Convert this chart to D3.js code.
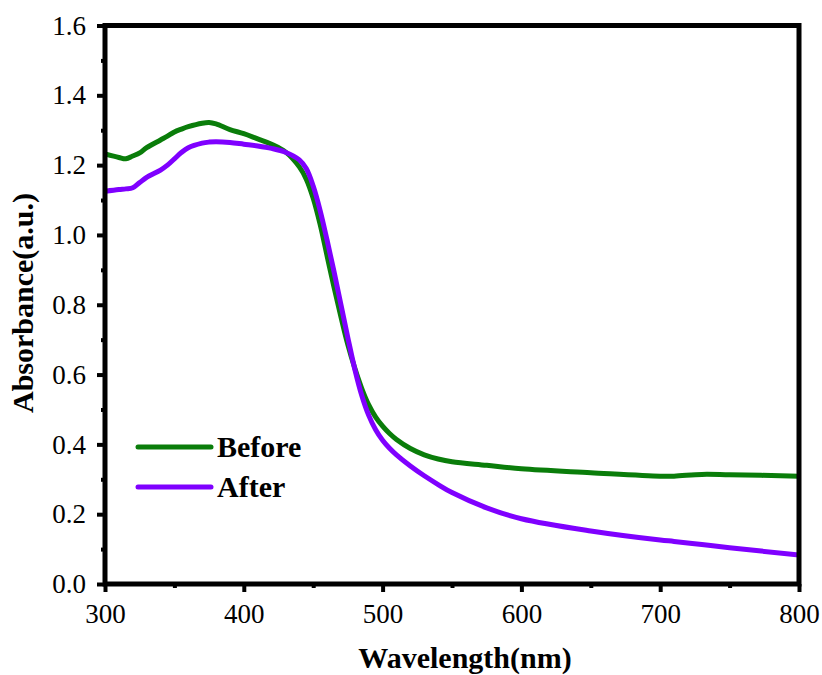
<!DOCTYPE html>
<html>
<head>
<meta charset="utf-8">
<script src="https://cdn.jsdelivr.net/npm/d3@7"></script>
<style>
  body { margin: 0; background: #fff; }
  svg { display: block; }
  text { font-family: "Liberation Serif", "Times New Roman", serif; fill: #000; }
</style>
</head>
<body>
<svg id="chart" width="822" height="675"></svg>
<script>
const wavelength = [300,310,315,320,325,330,340,345,350,355,360,370,375,380,390,400,410,420,430,440,445,450,455,460,465,470,475,480,485,490,495,500,505,510,520,530,540,550,575,600,650,700,710,730,750,800];
const before = [1.232,1.222,1.218,1.226,1.235,1.25,1.272,1.283,1.295,1.303,1.31,1.32,1.322,1.318,1.302,1.29,1.275,1.26,1.238,1.195,1.16,1.105,1.03,0.94,0.85,0.765,0.685,0.618,0.56,0.513,0.478,0.452,0.431,0.414,0.388,0.37,0.358,0.35,0.34,0.33,0.319,0.309,0.309,0.314,0.313,0.309];
const after = [1.125,1.13,1.132,1.135,1.15,1.165,1.186,1.2,1.218,1.236,1.25,1.263,1.266,1.267,1.265,1.26,1.255,1.248,1.237,1.215,1.19,1.14,1.07,0.985,0.895,0.80,0.705,0.615,0.54,0.483,0.442,0.412,0.389,0.37,0.338,0.31,0.285,0.262,0.218,0.187,0.152,0.126,0.122,0.113,0.104,0.083];
const seriesNames = ["Before", "After"];
const seriesColors = ["#0a7d0a", "#7f00ff"];
const xTicks = [300,400,500,600,700,800];
const yTicks = [0.0,0.2,0.4,0.6,0.8,1.0,1.2,1.4,1.6];
const xLabel = "Wavelength(nm)";
const yLabel = "Absorbance(a.u.)";

const svg = d3.select("#chart");
const L = 105, R = 799, T = 25.5, B = 584;
const x = d3.scaleLinear().domain([300, 800]).range([L, R]);
const y = d3.scaleLinear().domain([0, 1.6]).range([B, T]);

const series = [before, after];
const line = d3.line().x(d => x(d[0])).y(d => y(d[1])).curve(d3.curveCatmullRom.alpha(0.5));

const plot = svg.append("g");
plot.append("defs").append("clipPath").attr("id", "clip")
  .append("rect").attr("x", L).attr("y", T).attr("width", R - L).attr("height", B - T);

series.forEach((vals, i) => {
  plot.append("path")
    .datum(wavelength.map((w, j) => [w, vals[j]]))
    .attr("d", line)
    .attr("fill", "none")
    .attr("stroke", seriesColors[i])
    .attr("stroke-width", 5)
    .attr("stroke-linejoin", "round")
    .attr("clip-path", "url(#clip)");
});

// Axes
const xAxis = d3.axisBottom(x).tickValues(xTicks).tickFormat(d3.format("d")).tickSize(8).tickPadding(12);
const xMinor = d3.axisBottom(x).tickValues(d3.range(350, 800, 100)).tickFormat("").tickSize(4);
const yAxis = d3.axisLeft(y).tickValues(yTicks).tickFormat(d3.format(".1f")).tickSize(8).tickPadding(11);
const yMinor = d3.axisLeft(y).tickValues(d3.range(0.1, 1.6, 0.2)).tickFormat("").tickSize(4);

function styleAxis(g) {
  g.select(".domain").remove();
  g.selectAll(".tick line").attr("stroke", "#000").attr("stroke-width", 4);
  g.selectAll(".tick text").style("font-size", "27px").style("font-family", "'Liberation Serif', serif");
}

svg.append("g").attr("transform", `translate(0,${B})`).call(xAxis).call(styleAxis);
svg.append("g").attr("transform", `translate(0,${B})`).call(xMinor).call(styleAxis);
svg.append("g").attr("transform", `translate(${L},0)`).call(yAxis).call(styleAxis);
svg.append("g").attr("transform", `translate(${L},0)`).call(yMinor).call(styleAxis);

// Frame
svg.append("rect").attr("x", L).attr("y", T).attr("width", R - L).attr("height", B - T)
  .attr("fill", "none").attr("stroke", "#000").attr("stroke-width", 5);

// Axis titles
svg.append("text").attr("x", (L + R) / 2 + 13).attr("y", 668).attr("text-anchor", "middle")
  .style("font-size", "30px").style("font-weight", "bold").text(xLabel);
svg.append("text").attr("transform", `translate(33,${303}) rotate(-90)`).attr("text-anchor", "middle")
  .style("font-size", "30px").style("font-weight", "bold").text(yLabel);

// Legend
const leg = svg.append("g");
seriesNames.forEach((name, i) => {
  const ly = 447 + i * 40;
  leg.append("line").attr("x1", 138).attr("x2", 211).attr("y1", ly).attr("y2", ly)
    .attr("stroke", seriesColors[i]).attr("stroke-width", 5).attr("stroke-linecap", "round");
  leg.append("text").attr("x", 217).attr("y", ly + 10)
    .style("font-size", "30px").style("font-weight", "bold").text(name);
});
</script>
</body>
</html>
